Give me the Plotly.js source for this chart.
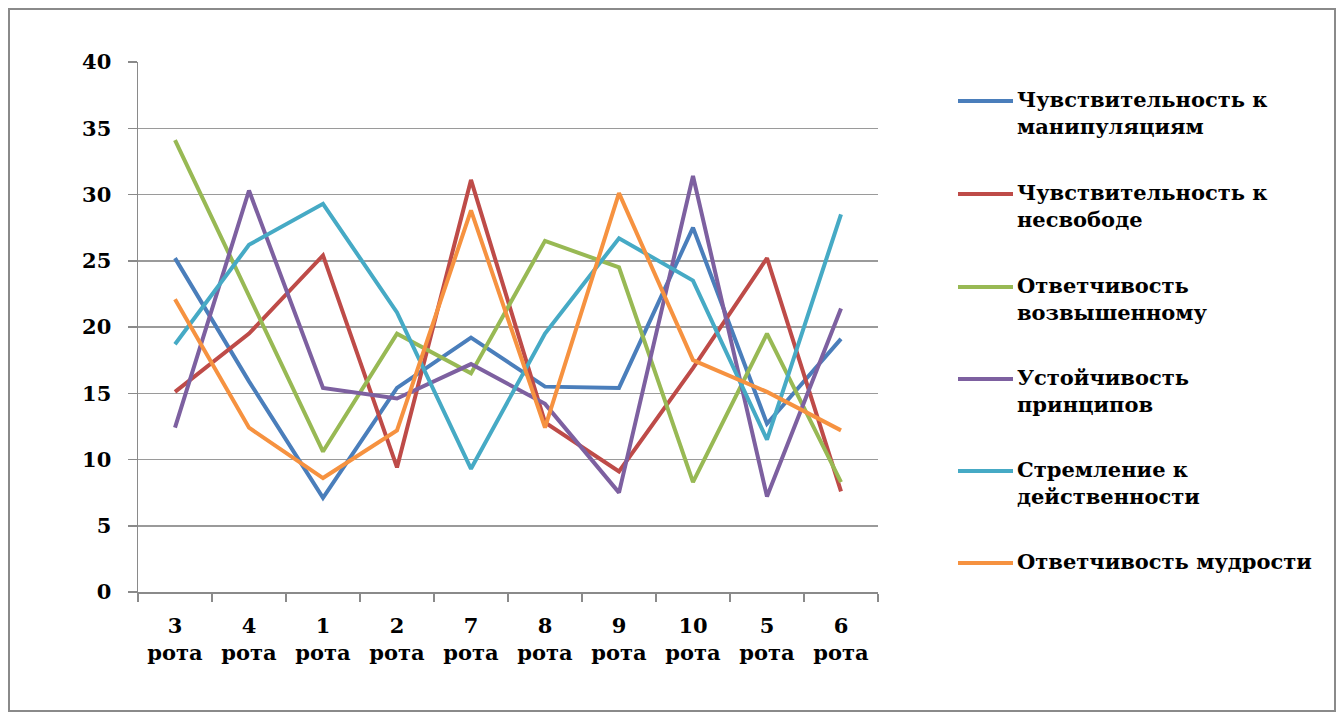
<!DOCTYPE html>
<html>
<head>
<meta charset="utf-8">
<script src="https://cdn.plot.ly/plotly-3.0.1.min.js"></script>
<style>
html,body{margin:0;padding:0;background:#fff;}
#chart{width:1343px;height:720px;}
</style>
</head>
<body>
<div id="chart"></div>
<script>
var categories = ["3<br>рота","4<br>рота","1<br>рота","2<br>рота","7<br>рота","8<br>рота","9<br>рота","10<br>рота","5<br>рота","6<br>рота"];
var seriesNames = [
  "Чувствительность к<br>манипуляциям",
  "Чувствительность к<br>несвободе",
  "Ответчивость<br>возвышенному",
  "Устойчивость<br>принципов",
  "Стремление к<br>действенности",
  "Ответчивость мудрости"
];
var manipulation = [25.2, 15.9, 7.1, 15.4, 19.2, 15.5, 15.4, 27.5, 12.7, 19.1];
var unfreedom    = [15.1, 19.5, 25.4, 9.4, 31.1, 12.8, 9.1, 16.9, 25.2, 7.6];
var sublime      = [34.1, 22.3, 10.6, 19.5, 16.5, 26.5, 24.5, 8.3, 19.5, 8.3];
var principles   = [12.4, 30.3, 15.4, 14.6, 17.2, 14.2, 7.5, 31.4, 7.2, 21.4];
var efficacy     = [18.7, 26.2, 29.3, 21.1, 9.3, 19.5, 26.7, 23.5, 11.5, 28.5];
var wisdom       = [22.1, 12.4, 8.6, 12.2, 28.8, 12.4, 30.1, 17.5, 15.1, 12.2];
var yTicks = [0, 5, 10, 15, 20, 25, 30, 35, 40];

var allSeries = [manipulation, unfreedom, sublime, principles, efficacy, wisdom];
var colors = ["#4A7EBB", "#BE4B48", "#98B954", "#7D60A0", "#46AAC5", "#F69240"];
var font = "DejaVu Serif";

var traces = allSeries.map(function(vals, i){
  return {
    type: "scatter", mode: "lines",
    x: categories, y: vals,
    name: seriesNames[i],
    line: {color: colors[i], width: 4},
    showlegend: false,
    hoverinfo: "x+y"
  };
});

var L = 138, R = 878, T = 62, B = 592;
function px(x){ return (x - L) / (R - L); }
function py(y){ return (B - y) / (B - T); }

var shapes = [{
  type: "rect", xref: "paper", yref: "paper",
  x0: px(9), x1: px(1335), y0: py(711), y1: py(9),
  line: {color: "#8a8a8a", width: 2}, layer: "below"
}];
var annotations = [];
var legendY = [101, 194, 287, 379, 471, 563];
seriesNames.forEach(function(n, i){
  shapes.push({
    type: "line", xref: "paper", yref: "paper",
    x0: px(958), x1: px(1013), y0: py(legendY[i]), y1: py(legendY[i]),
    line: {color: colors[i], width: 4}
  });
  annotations.push({
    xref: "paper", yref: "paper",
    x: px(1015), y: py(legendY[i] - 16),
    xanchor: "left", yanchor: "top", align: "left",
    text: "<b>" + n + "</b>",
    showarrow: false,
    font: {family: font, size: 21, color: "#000"}
  });
});

var layout = {
  width: 1343, height: 720,
  margin: {l: L, r: 1343 - R, t: T, b: 720 - B, pad: 0},
  paper_bgcolor: "#fff", plot_bgcolor: "#fff",
  showlegend: false,
  font: {family: font, size: 21, color: "#000"},
  xaxis: {
    type: "category",
    range: [-0.5, 9.5],
    tickson: "boundaries",
    tickangle: 0,
    ticks: "outside", ticklen: 8, tickcolor: "#8a8a8a", tickwidth: 1.5,
    showline: true, linecolor: "#8a8a8a", linewidth: 1.5,
    showgrid: false, zeroline: false,
    tickfont: {family: font, size: 21, color: "#000", weight: "bold"},
    ticklabelstandoff: 14
  },
  yaxis: {
    range: [0, 40],
    tickvals: yTicks,
    ticktext: yTicks.map(String),
    ticks: "outside", ticklen: 9, tickcolor: "#8a8a8a", tickwidth: 1.5,
    showline: true, linecolor: "#8a8a8a", linewidth: 1.5,
    showgrid: true, gridcolor: "#9a9a9a", gridwidth: 1.5,
    zeroline: false,
    tickfont: {family: font, size: 21, color: "#000", weight: "bold"},
    ticklabelstandoff: 12
  },
  shapes: shapes,
  annotations: annotations
};

Plotly.newPlot("chart", traces, layout, {displayModeBar: false, staticPlot: true});
</script>
</body>
</html>
